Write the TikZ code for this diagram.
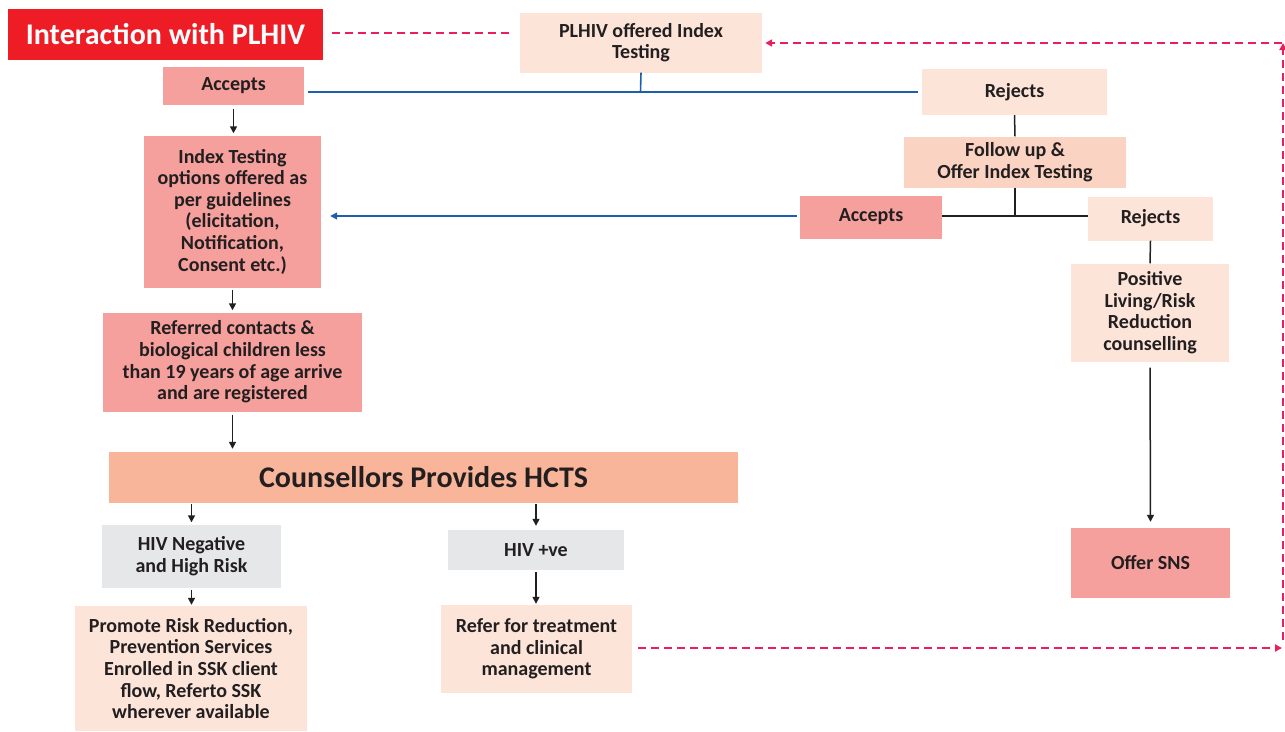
\documentclass[tikz,border=0pt]{standalone}
\usepackage{fontspec}
\setmainfont{Carlito}
\usetikzlibrary{arrows.meta}
\definecolor{titlered}{HTML}{EE1C25}
\definecolor{salmon}{HTML}{F5A09C}
\definecolor{peach}{HTML}{FCE4D9}
\definecolor{peachmid}{HTML}{FBD3C2}
\definecolor{counsc}{HTML}{F9B59A}
\definecolor{greybox}{HTML}{E6E7E8}
\definecolor{blueline}{HTML}{1F5FAA}
\definecolor{pinkline}{HTML}{E91E5A}
\definecolor{txt}{HTML}{231F20}
\tikzset{
  box/.style={draw=none, inner sep=2pt, align=center, text=txt,
    font=\fontsize{20}{21.6}\selectfont\bfseries},
  blk/.style={draw=txt, line width=1.5pt},
  blkarrow/.style={blk, -{Triangle[width=7pt,length=7pt]}},
  blu/.style={draw=blueline, line width=1.6pt},
  bluarrow/.style={blu, -{Triangle[width=7pt,length=7pt]}},
  pinkdash/.style={draw=pinkline, line width=1.8pt, dash pattern=on 8pt off 5pt},
  pinkarrow/.style={pinkdash, -{Triangle[width=7pt,length=7pt]}}
}
\begin{document}
\begin{tikzpicture}[x=1pt,y=-1pt]
\useasboundingbox (0,0) rectangle (1285,731);
% nodes
\node[box, fill=titlered, text=white, font=\fontsize{30}{32}\selectfont\bfseries,
  minimum width=315pt, minimum height=51pt] (title) at (165.5,34.5) {Interaction with PLHIV};
\node[box, fill=peach, minimum width=242pt, minimum height=60pt] (plhiv) at (641,42.5) {PLHIV offered Index\\Testing};
\node[box, fill=salmon, minimum width=141pt, minimum height=38pt] (acc1) at (233.5,86) {Accepts};
\node[box, fill=peach, minimum width=185pt, minimum height=46pt] (rej1) at (1014.5,92) {Rejects};
\node[box, fill=peachmid, minimum width=222pt, minimum height=51pt] (follow) at (1015,162) {Follow up \&\\Offer Index Testing};
\node[box, fill=salmon, minimum width=142pt, minimum height=43pt] (acc2) at (871,217) {Accepts};
\node[box, fill=peach, minimum width=125pt, minimum height=44pt] (rej2) at (1150.5,218.5) {Rejects};
\node[box, fill=peach, minimum width=158pt, minimum height=98pt] (posl) at (1150,312.5) {Positive\\Living/Risk\\Reduction\\counselling};
\node[box, fill=salmon, minimum width=159pt, minimum height=70pt] (sns) at (1150.5,563) {Offer SNS};
\node[box, fill=salmon, minimum width=177pt, minimum height=152pt] (index) at (232.5,211.5) {Index Testing\\options offered as\\per guidelines\\(elicitation,\\Notification,\\Consent etc.)};
\node[box, fill=salmon, minimum width=259pt, minimum height=99pt] (ref) at (232.5,362) {Referred contacts \&\\biological children less\\than 19 years of age arrive\\and are registered};
\node[box, fill=counsc, font=\fontsize{30}{32}\selectfont\bfseries,
  minimum width=629pt, minimum height=51pt] (couns) at (423.5,477.5) {Counsellors Provides HCTS};
\node[box, fill=greybox, minimum width=179pt, minimum height=63pt] (neg) at (191.5,556) {HIV Negative\\and High Risk};
\node[box, fill=greybox, minimum width=176pt, minimum height=40pt] (hpos) at (536,550) {HIV +ve};
\node[box, fill=peach, minimum width=232pt, minimum height=125pt] (prom) at (191,668.5) {Promote Risk Reduction,\\Prevention Services\\Enrolled in SSK client\\flow, Referto SSK\\wherever available};
\node[box, fill=peach, minimum width=191pt, minimum height=88pt] (refer) at (536.5,649) {Refer for treatment\\and clinical\\management};
% coordinates
\coordinate (bj) at (640.5,92);
\coordinate (fj) at (1015,216);
\coordinate (tj) at (0,33);
\coordinate (rc1) at (1282,648);
\coordinate (rc2) at (1283,640);
\coordinate (rc3) at (1283,43);
% blue connectors
\draw[blu] (plhiv.south) -- (bj);
\draw[blu, shorten <=4pt, shorten >=4pt] (acc1.east |- bj) -- (rej1.west |- bj);
\draw[bluarrow, shorten <=3pt, shorten >=9pt] (acc2.west |- fj) -- (index.east |- fj);
% black connectors
\draw[blk] (rej1.south) -- (follow.north);
\draw[blk] (follow.south) -- (fj);
\draw[blk] (acc2.east |- fj) -- (rej2.west |- fj);
\draw[blk] (rej2.south) -- (posl.north);
\draw[blkarrow, shorten <=6pt, shorten >=6pt] (posl.south) -- (sns.north);
\draw[blkarrow, shorten <=4pt, shorten >=2pt] (acc1.south) -- (acc1.south |- index.north);
\draw[blkarrow, shorten <=2pt, shorten >=2pt] (index.south) -- (index.south |- ref.north);
\draw[blkarrow, shorten <=3pt, shorten >=3pt] (ref.south) -- (ref.south |- couns.north);
\draw[blkarrow, shorten <=1pt, shorten >=2pt] (couns.south -| neg.north) -- (neg.north);
\draw[blkarrow, shorten <=1pt, shorten >=4pt] (couns.south -| hpos.north) -- (hpos.north);
\draw[blkarrow, shorten <=2pt, shorten >=1pt] (neg.south) -- (neg.south |- prom.north);
\draw[blkarrow, shorten <=2pt, shorten >=1pt] (hpos.south) -- (hpos.south |- refer.north);
% pink dashed connectors
\draw[pinkdash, shorten <=9pt, shorten >=8pt] (title.east |- tj) -- (plhiv.west |- tj);
\draw[pinkarrow, shorten <=6pt] (refer.east |- rc1) -- (rc1);
\draw[pinkarrow] (rc2) -- (rc3);
\draw[pinkarrow, shorten >=3pt] (1282,43) -- (rc3 -| plhiv.east);
\end{tikzpicture}
\end{document}
